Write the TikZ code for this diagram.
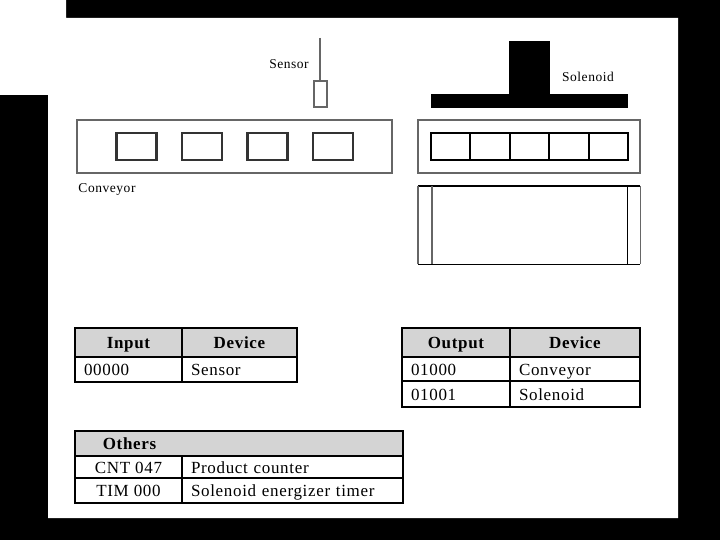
\documentclass[tikz,border=0pt]{standalone}
\usepackage{fontspec}
\setmainfont[LetterSpace=4]{Liberation Serif}
\definecolor{headgray}{gray}{0.83}
\definecolor{framegray}{gray}{0.4}
\tikzset{
    framebox/.style={draw=framegray, line width=2pt, inner sep=0pt},
    holebox/.style={draw=black!80, line width=2.4pt, inner sep=0pt, minimum width=40pt, minimum height=27pt},
    slotbox/.style={draw=black, line width=2pt, inner sep=0pt, minimum width=39.5pt, minimum height=27pt},
    tablecell/.style={draw=black, line width=2pt, inner ysep=0pt, text height=12pt, text depth=0pt, font=\fontsize{17}{18}\selectfont},
    headcell/.style={tablecell, fill=headgray, font=\fontsize{17}{18}\selectfont\bfseries},
    bodycell/.style={tablecell, align=left, inner xsep=9pt, text width=#1},
    label/.style={inner sep=0pt, text height=9pt, text depth=0pt, font=\fontsize{13.5}{14}\selectfont}
}
\begin{document}
\begin{tikzpicture}[x=1pt, y=-1pt]
    \useasboundingbox (0, 0) rectangle (720, 540);
    \fill[black] (0, 0) rectangle (720, 540);
    \fill[white] (0, 0) -- (66, 0) -- (66, 18) -- (678, 18) -- (678, 518) -- (48, 518) -- (48, 95) -- (0, 95) -- cycle;

    \coordinate (probe) at (320, 38);
    \node[framebox, minimum width=13pt, minimum height=26pt] (sensor) at (320, 94) {};
    \draw[framegray, line width=2pt] (probe) -- (sensor);
    \node[label] (sensorlabel) at (289, 64.5) {Sensor};

    \node[framebox, minimum width=315pt, minimum height=53pt] (belt) at (234.5, 146.5) {};
    \foreach \i/\x in {1/136.5, 2/202, 3/267.5, 4/333}
        \node[holebox] (hole\i) at (\x, 146.5) {};
    \node[label] (beltlabel) at (107, 188.5) {Conveyor};

    \node[fill=black, inner sep=0pt, minimum width=41pt, minimum height=54pt] (plunger) at (529.5, 68) {};
    \node[fill=black, inner sep=0pt, minimum width=197pt, minimum height=14pt] (head) at (529.5, 101) {};
    \node[label] (solenoidlabel) at (588, 77.5) {Solenoid};

    \node[framebox, minimum width=222pt, minimum height=53pt] (stop) at (529, 146.5) {};
    \foreach \i/\x in {1/450.5, 2/490, 3/529.5, 4/569, 5/608.5}
        \node[slotbox] (slot\i) at (\x, 146.5) {};

    \node[inner sep=0pt, minimum width=222pt, minimum height=78pt] (bin) at (529, 225) {};
    \draw[black, line width=1.6pt] (bin.north west) -- (bin.north east);
    \draw[black, line width=1pt] (bin.south west) -- (bin.south east);
    \draw[framegray, line width=1.4pt] (bin.north west) -- (bin.south west);
    \draw[framegray, line width=1.4pt] (bin.north east) -- (bin.south east);
    \coordinate (bintopl) at (432, 186);
    \coordinate (binbotl) at (432, 264);
    \coordinate (bintopr) at (627, 186);
    \coordinate (binbotr) at (627, 264);
    \draw[framegray, line width=1.4pt] (bintopl) -- (binbotl);
    \draw[black, line width=1pt] (bintopr) -- (binbotr);

    \node[headcell, minimum width=107pt, minimum height=29pt] (inhead) at (128.5, 342.5) {Input};
    \node[headcell, minimum width=115pt, minimum height=29pt] (indevhead) at (239.5, 342.5) {Device};
    \node[bodycell=89pt, minimum height=25pt] (inaddr) at (128.5, 369.5) {00000};
    \node[bodycell=97pt, minimum height=25pt] (indev) at (239.5, 369.5) {Sensor};

    \node[headcell, minimum width=108pt, minimum height=29pt] (outhead) at (456, 342.5) {Output};
    \node[headcell, minimum width=130pt, minimum height=29pt] (outdevhead) at (575, 342.5) {Device};
    \node[bodycell=90pt, minimum height=24pt] (outaddra) at (456, 369) {01000};
    \node[bodycell=112pt, minimum height=24pt] (outdeva) at (575, 369) {Conveyor};
    \node[bodycell=90pt, minimum height=26pt] (outaddrb) at (456, 394) {01001};
    \node[bodycell=112pt, minimum height=26pt] (outdevb) at (575, 394) {Solenoid};

    \node[headcell, minimum width=328pt, minimum height=25pt] (otherhead) at (239, 443.5) {};
    \node[tablecell, draw=none, inner sep=0pt, font=\fontsize{17}{18}\selectfont\bfseries] (othertext) at (129.5, 443.5) {Others};
    \node[tablecell, minimum width=107pt, minimum height=22pt] (cntaddr) at (128.5, 467) {CNT 047};
    \node[bodycell=203pt, minimum height=22pt] (cntname) at (292.5, 467) {Product counter};
    \node[tablecell, minimum width=107pt, minimum height=25pt] (timaddr) at (128.5, 490.5) {TIM 000};
    \node[bodycell=203pt, minimum height=25pt] (timname) at (292.5, 490.5) {Solenoid energizer timer};
\end{tikzpicture}
\end{document}
